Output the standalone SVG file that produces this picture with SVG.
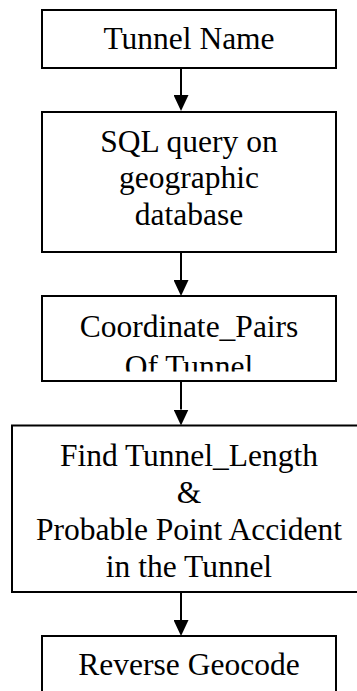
<svg xmlns="http://www.w3.org/2000/svg" width="357" height="691" viewBox="0 0 357 691">
  <style>
    .box { fill: #ffffff; stroke: #000000; stroke-width: 2; }
    .label { font-family: "Liberation Serif", "Times New Roman", serif; font-size: 31.5px; fill: #000000; text-anchor: middle; }
    .link { stroke: #000000; stroke-width: 2; fill: none; marker-end: url(#arrow); }
  </style>
  <defs>
    <marker id="arrow" viewBox="0 0 16 15" refX="0" refY="7.5" markerWidth="16" markerHeight="15" markerUnits="userSpaceOnUse" orient="auto">
      <path d="M0,0 L16,7.5 L0,15 z" fill="#000000"/>
    </marker>
    <clipPath id="clip-coords">
      <rect x="43" y="297" width="292" height="74.5"/>
    </clipPath>
  </defs>

  <rect width="357" height="691" fill="#ffffff"/>

  <g id="connectors">
    <line class="link" x1="181" y1="68" x2="181" y2="95"/>
    <line class="link" x1="181" y1="252" x2="181" y2="280"/>
    <line class="link" x1="181" y1="381" x2="181" y2="409.5"/>
    <line class="link" x1="181" y1="592" x2="181" y2="620"/>
  </g>

  <g id="tunnel-name">
    <rect class="box" x="42" y="10" width="294" height="58"/>
    <text class="label" x="189" y="49">Tunnel Name</text>
  </g>

  <g id="sql-query">
    <rect class="box" x="42" y="112" width="294" height="140"/>
    <text class="label" x="189" y="151.5">SQL query on</text>
    <text class="label" x="189" y="188">geographic</text>
    <text class="label" x="189" y="224.5">database</text>
  </g>

  <g id="coordinate-pairs">
    <rect class="box" x="42" y="296" width="294" height="85"/>
    <g clip-path="url(#clip-coords)">
      <text class="label" x="189" y="337">Coordinate_Pairs</text>
      <text class="label" x="189" y="377">Of Tunnel</text>
    </g>
  </g>

  <g id="tunnel-length">
    <rect class="box" x="12" y="425.5" width="360" height="166.5"/>
    <text class="label" x="189" y="466">Find Tunnel_Length</text>
    <text class="label" x="189" y="503">&amp;</text>
    <text class="label" x="189" y="540">Probable Point Accident</text>
    <text class="label" x="189" y="577">in the Tunnel</text>
  </g>

  <g id="reverse-geocode">
    <rect class="box" x="42" y="636" width="294" height="70"/>
    <text class="label" x="189" y="675">Reverse Geocode</text>
  </g>
</svg>
